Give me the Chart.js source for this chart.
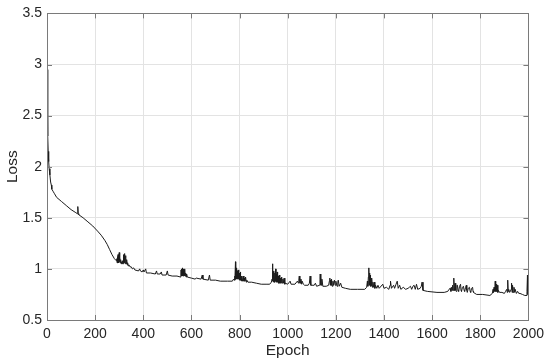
<!DOCTYPE html>
<html>
<head>
<meta charset="utf-8">
<script src="https://cdn.jsdelivr.net/npm/chart.js@4.4.0/dist/chart.umd.min.js"></script>
<style>
html,body{margin:0;padding:0;background:#fff;}
#c{display:block;}
</style>
</head>
<body>
<canvas id="c" width="550" height="363"></canvas>
<script>
// ---- data (epoch / loss pairs, line by line) ----
const epochs = [
  0,2,4,5,7,9,12,15,18,20,25,30,40,50,60,80,100,120,126,128,130,132,150,170,190,210,225,240,250,260,270,280,288,
  290,291,293,294,295,296,298,299,300,301,303,304,306,308,310,312,314,316,318,319,320,321,322,323,324,325,326,327,328,330,331,333,335,337,340,
  345,350,355,360,365,380,385,388,395,400,403,410,413,430,450,455,458,470,475,478,495,500,503,520,540,555,
  556,557,558,559,560,561,562,563,564,565,567,568,570,571,573,574,576,578,580,583,585,
  600,615,620,640,645,648,670,675,678,700,720,750,770,775,
  778,780,781,783,784,786,787,788,790,791,793,794,796,797,799,800,802,803,805,806,808,810,812,815,818,820,822,825,828,830,835,
  850,870,890,910,925,
  932,935,937,938,940,941,943,944,946,947,950,951,953,954,956,958,960,962,965,967,970,972,975,978,980,983,985,988,990,
  1000,1010,1014,1030,1040,1045,1046,1048,1050,1051,1053,1055,1058,1060,1065,1070,1085,1090,1093,1096,1110,1115,1120,1132,1134,1135,1137,1138,1140,1142,1146,1160,1170,1173,1175,1177,1178,1180,1182,1185,1188,1190,1194,1197,1200,1205,1208,1210,1214,1220,1225,1240,1260,1290,1320,
  1328,1331,1333,1335,1337,1338,1340,1341,1343,1344,1346,1348,1350,1352,1354,1357,1360,1362,1365,1370,
  1375,1380,1395,1400,1410,1420,1425,1427,1431,1440,1444,1450,1455,1459,1465,1470,1480,1490,1500,1505,1510,1515,1520,1525,1530,1535,1540,1550,1555,1558,1562,1580,1620,1650,
  1665,1670,1675,1678,1680,1683,1685,1687,1690,1692,1693,1695,1697,1699,1700,1703,1705,1708,1710,1714,1718,1720,1722,1726,1730,1733,1735,1739,1742,1744,1746,1750,1755,1758,1760,1764,1768,1770,1772,1778,
  1785,1810,1840,1850,1853,1855,1857,1860,1862,1864,1866,1868,1870,1873,1875,1880,1890,1900,1905,1910,1912,1914,1916,1918,1922,1925,1928,1930,1932,1934,1937,1940,1943,1945,1950,1955,1960,1965,1975,1985,1990,1994,1996,1998,2000
];
const loss = [
  2.95,2.6,2.3,2.15,2.05,1.98,1.92,1.85,1.82,1.78,1.76,1.74,1.70,1.68,1.66,1.62,1.58,1.55,1.54,1.61,1.54,1.53,1.50,1.46,1.42,1.37,1.33,1.28,1.24,1.19,1.14,1.10,1.08,
  1.10,1.06,1.12,1.06,1.14,1.07,1.12,1.06,1.16,1.07,1.11,1.06,1.09,1.05,1.07,1.05,1.08,1.05,1.14,1.06,1.12,1.06,1.15,1.06,1.12,1.05,1.13,1.05,1.10,1.05,1.09,1.04,1.06,1.03,1.04,
  1.02,1.02,1.00,1.01,0.99,0.98,1.00,0.98,0.97,0.99,0.97,1.00,0.96,0.96,0.95,0.98,0.95,0.95,0.97,0.94,0.94,0.98,0.94,0.93,0.93,0.92,
  0.94,0.99,0.93,1.00,0.94,0.99,1.01,0.93,0.99,0.93,1.00,0.94,0.99,0.93,1.00,0.93,0.96,0.92,0.95,0.92,0.92,
  0.91,0.90,0.91,0.90,0.94,0.90,0.89,0.94,0.89,0.89,0.88,0.88,0.88,0.90,
  0.89,0.93,0.89,1.07,0.90,0.99,0.90,1.01,0.91,0.98,0.90,0.99,0.90,0.95,0.89,0.96,0.89,0.97,0.89,0.93,0.88,0.92,0.88,0.93,0.88,0.91,0.88,0.92,0.87,0.89,0.87,
  0.87,0.86,0.85,0.85,0.85,
  0.87,0.90,1.05,0.88,0.97,0.87,0.98,0.87,0.96,0.87,1.00,0.88,0.95,0.87,0.97,0.87,0.93,0.86,0.94,0.86,0.91,0.86,0.92,0.86,0.90,0.86,0.91,0.85,0.86,
  0.85,0.88,0.85,0.85,0.88,0.86,0.89,0.93,0.86,0.91,0.86,0.90,0.85,0.88,0.85,0.84,0.84,0.86,0.93,0.84,0.84,0.86,0.83,0.84,0.90,0.95,0.84,0.92,0.84,0.90,0.83,0.83,0.84,0.88,0.91,0.84,0.89,0.84,0.90,0.83,0.88,0.84,0.89,0.84,0.88,0.83,0.87,0.89,0.83,0.86,0.82,0.81,0.80,0.80,0.80,
  0.82,0.88,0.83,0.92,1.01,0.85,0.96,0.84,0.94,0.83,0.91,0.83,0.90,0.82,0.87,0.82,0.87,0.81,0.84,0.81,
  0.84,0.81,0.85,0.81,0.82,0.80,0.84,0.88,0.81,0.84,0.81,0.85,0.88,0.81,0.84,0.80,0.82,0.80,0.81,0.82,0.83,0.80,0.83,0.84,0.80,0.85,0.80,0.81,0.83,0.87,0.79,0.78,0.77,0.77,
  0.78,0.80,0.81,0.78,0.82,0.79,0.84,0.79,0.91,0.80,0.79,0.86,0.86,0.79,0.78,0.84,0.84,0.79,0.78,0.83,0.85,0.79,0.78,0.82,0.83,0.79,0.78,0.82,0.84,0.79,0.77,0.81,0.82,0.78,0.77,0.81,0.82,0.78,0.77,0.76,
  0.75,0.75,0.74,0.76,0.80,0.77,0.82,0.78,0.88,0.78,0.85,0.78,0.84,0.77,0.79,0.77,0.77,0.76,0.78,0.80,0.77,0.89,0.78,0.80,0.77,0.78,0.80,0.86,0.77,0.84,0.77,0.82,0.77,0.80,0.76,0.78,0.76,0.76,0.75,0.74,0.74,0.78,0.94,0.75,0.76
];
const xTicks = [0,200,400,600,800,1000,1200,1400,1600,1800,2000];
const yTicks = [0.5,1,1.5,2,2.5,3,3.5];
const yTickLabels = ['0.5','1','1.5','2','2.5','3','3.5'];
const xTitle = 'Epoch';
const yTitle = 'Loss';

const FONT = '"Liberation Sans", Arial, Helvetica, sans-serif';
const TEXT = '#262626';
const BOX = '#7a7a7a';
const GRID = '#e3e3e3';

const boxPlugin = {
  id: 'box',
  afterDraw(chart) {
    const {ctx, chartArea: a, scales} = chart;
    ctx.save();
    ctx.strokeStyle = BOX;
    ctx.lineWidth = 1;
    ctx.strokeRect(Math.round(a.left) + 0.5, Math.round(a.top) + 0.5,
                   Math.round(a.right - a.left), Math.round(a.bottom - a.top));
    const L = 5;
    ctx.beginPath();
    xTicks.forEach(v => {
      const px = Math.round(scales.x.getPixelForValue(v)) + 0.5;
      ctx.moveTo(px, a.bottom); ctx.lineTo(px, a.bottom - L);
      ctx.moveTo(px, a.top); ctx.lineTo(px, a.top + L);
    });
    yTicks.forEach(v => {
      const py = Math.round(scales.y.getPixelForValue(v)) + 0.5;
      ctx.moveTo(a.left, py); ctx.lineTo(a.left + L, py);
      ctx.moveTo(a.right, py); ctx.lineTo(a.right - L, py);
    });
    ctx.stroke();
    ctx.restore();
  }
};

new Chart(document.getElementById('c'), {
  type: 'line',
  data: {
    datasets: [{
      data: epochs.map((e, i) => ({x: e, y: loss[i]})),
      borderColor: '#1c1c1c',
      borderWidth: 1,
      pointRadius: 0,
      tension: 0,
      fill: false
    }]
  },
  options: {
    responsive: false,
    animation: false,
    devicePixelRatio: 1,
    layout: {padding: {top: 13, right: 20, left: 0, bottom: 0}},
    plugins: {legend: {display: false}, tooltip: {enabled: false}},
    scales: {
      x: {
        type: 'linear', min: 0, max: 2000,
        afterBuildTicks: s => { s.ticks = xTicks.map(v => ({value: v})); },
        afterFit: s => { s.height = 43; },
        grid: {color: GRID, drawTicks: false},
        border: {display: false},
        ticks: {color: TEXT, font: {family: FONT, size: 14}, padding: 6, maxRotation: 0,
                callback: v => String(v)},
        title: {display: true, text: xTitle, color: TEXT, font: {family: FONT, size: 15.5},
                padding: {top: 0, bottom: 3}}
      },
      y: {
        min: 0.5, max: 3.5,
        afterBuildTicks: s => { s.ticks = yTicks.map(v => ({value: v})); },
        afterFit: s => { s.width = 47; },
        grid: {color: GRID, drawTicks: false},
        border: {display: false},
        ticks: {color: TEXT, font: {family: FONT, size: 14}, padding: 5,
                callback: (v) => yTickLabels[yTicks.indexOf(v)]},
        title: {display: true, text: yTitle, color: TEXT, font: {family: FONT, size: 15.5},
                padding: {top: 3, bottom: 0}}
      }
    }
  },
  plugins: [boxPlugin]
});
</script>
</body>
</html>
